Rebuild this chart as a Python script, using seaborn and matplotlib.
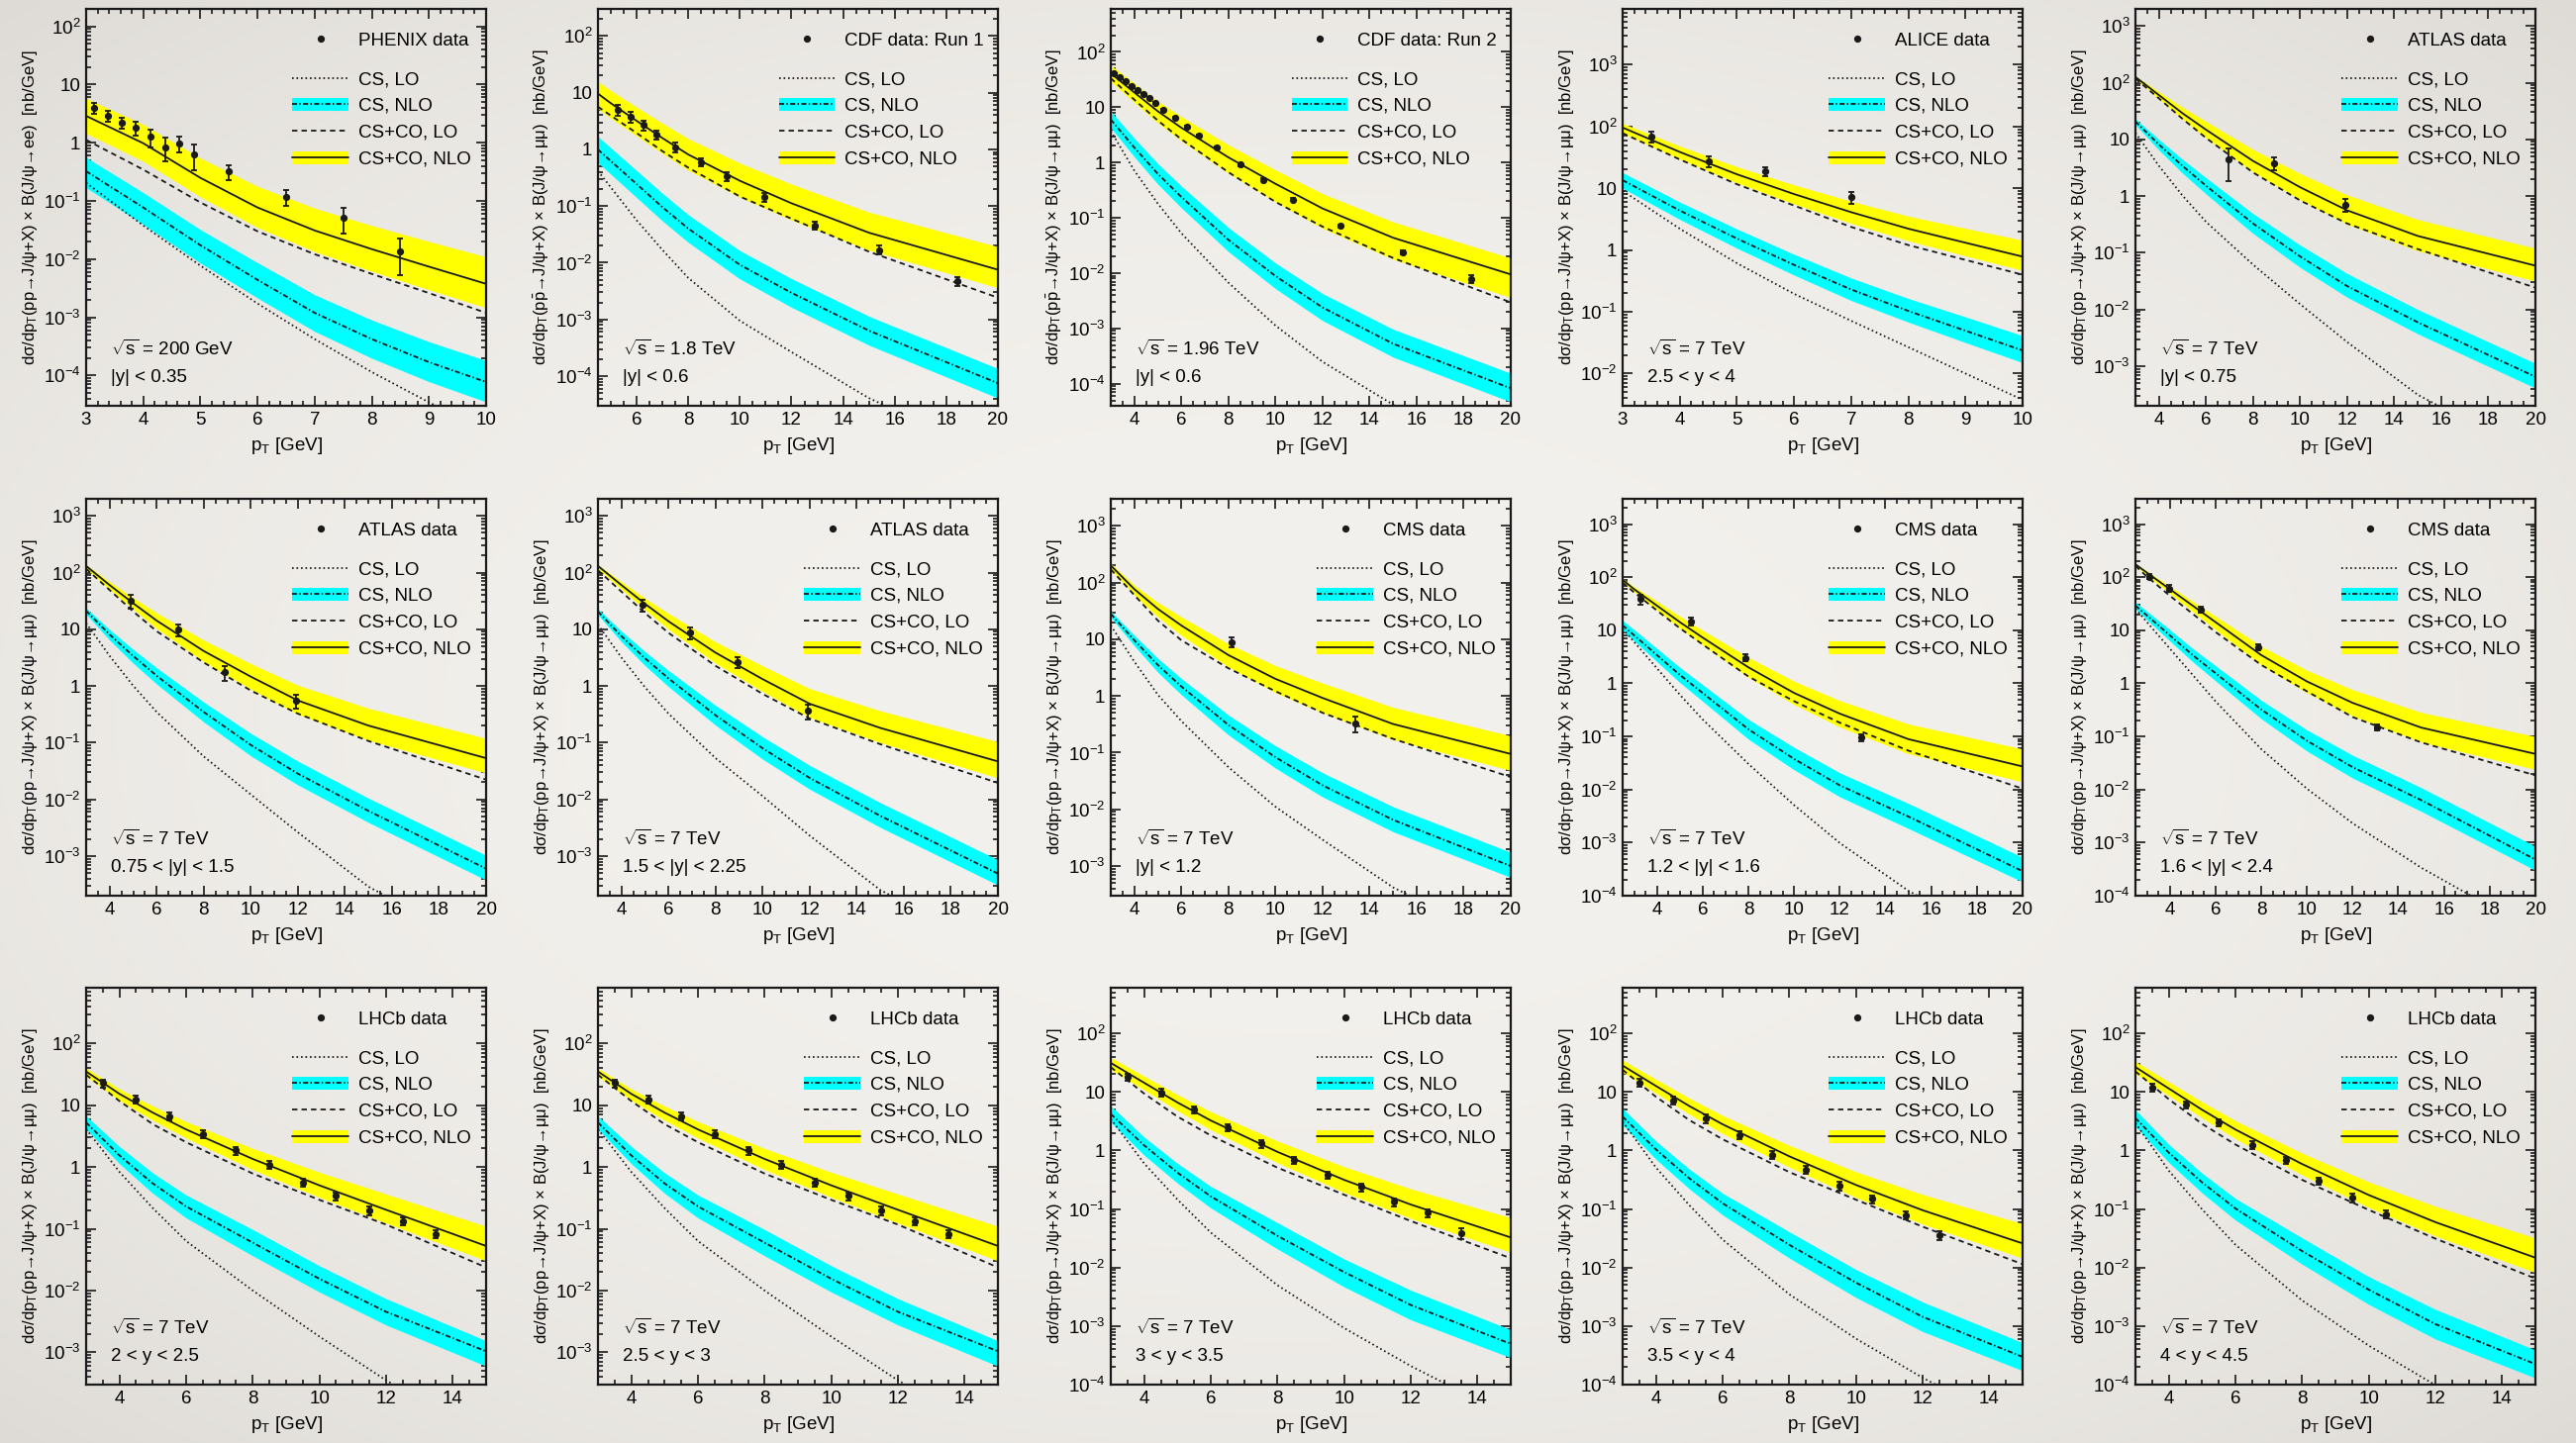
import numpy as np
import matplotlib
matplotlib.use("Agg")
import matplotlib.pyplot as plt
import seaborn as sns
from matplotlib.ticker import FixedLocator, FuncFormatter, NullFormatter
from matplotlib.lines import Line2D
from matplotlib.patches import Patch

# ---------------------------------------------------------------- data
# sampling points (pT in GeV) for the theory curves of each panel
CURVE_PT = [
    [3, 4, 5, 6, 7, 8, 9, 10],                      # PHENIX
    [4.5, 5, 6, 7, 8, 10, 12, 15, 20],              # CDF run 1
    [3, 4, 5, 6, 8, 10, 12, 15, 20],                # CDF run 2
    [3, 4, 5, 6, 7, 8, 9, 10],                      # ALICE
    [3, 4, 5, 6, 8, 10, 12, 15, 20],                # ATLAS |y|<0.75
    [3, 4, 5, 6, 8, 10, 12, 15, 20],                # ATLAS 0.75-1.5
    [3, 4, 5, 6, 8, 10, 12, 15, 20],                # ATLAS 1.5-2.25
    [3, 4, 5, 6, 8, 10, 12, 15, 20],                # CMS |y|<1.2
    [2.5, 3, 4, 5, 6, 8, 10, 12, 15, 20],           # CMS 1.2-1.6
    [2.5, 3, 4, 5, 6, 8, 10, 12, 15, 20],           # CMS 1.6-2.4
    [3, 4, 5, 6, 8, 10, 12, 15],                    # LHCb 2-2.5
    [3, 4, 5, 6, 8, 10, 12, 15],                    # LHCb 2.5-3
    [3, 4, 5, 6, 8, 10, 12, 15],                    # LHCb 3-3.5
    [3, 4, 5, 6, 8, 10, 12, 15],                    # LHCb 3.5-4
    [3, 4, 5, 6, 8, 10, 12, 15],                    # LHCb 4-4.5
]

# CS, LO  (nb/GeV)
CS_LO = [
    [0.205, 0.0377, 0.00769, 0.00172, 4.2e-4, 1.14e-4, 3.44e-5, 1.15e-5],
    [0.416, 0.213, 0.056, 0.0168, 0.0054, 9.5e-4, 2.66e-4, 4.1e-5, 3.7e-6],
    [3.72, 0.716, 0.181, 0.0527, 0.00673, 0.00113, 2.5e-4, 4.2e-5, 3.1e-6],
    [9.08, 2.21, 0.611, 0.195, 0.0713, 0.0267, 0.01, 0.00375],
    [13, 3.4, 1.02, 0.351, 0.0617, 0.0124, 0.00266, 3.13e-4, 2.47e-5],
    [12.9, 3.38, 1.01, 0.347, 0.057, 0.0122, 0.00262, 2.88e-4, 2.26e-5],
    [12.1, 3.16, 0.948, 0.325, 0.0533, 0.0114, 0.00229, 2.52e-4, 2.12e-5],
    [17.5, 4.03, 1.05, 0.361, 0.0555, 0.0111, 0.00292, 4.2e-4, 4.0e-5],
    [10.7, 6.06, 1.93, 0.615, 0.21, 0.0305, 0.0051, 9.86e-4, 1.24e-4, 8.8e-6],
    [25.4, 14.3, 4.55, 1.45, 0.462, 0.0581, 0.0104, 0.00232, 3.37e-4, 2.07e-5],
    [4.11, 0.834, 0.216, 0.0634, 0.01, 0.0018, 3.52e-4, 4.27e-5],
    [4.11, 0.834, 0.216, 0.0634, 0.01, 0.0018, 3.52e-4, 4.27e-5],
    [3.45, 0.6, 0.145, 0.0395, 0.00498, 9.25e-4, 2.08e-4, 2.8e-5],
    [3.1, 0.51, 0.116, 0.03, 0.00349, 6.1e-4, 1.31e-4, 1.68e-5],
    [2.93, 0.45, 0.0986, 0.0245, 0.00274, 4.63e-4, 9.8e-5, 1.26e-5],
]

# CS, NLO central value
CS_NLO = [
    [0.324, 0.077, 0.0173, 0.00439, 0.00119, 4.2e-4, 1.69e-4, 7.7e-5],
    [0.993, 0.621, 0.244, 0.0955, 0.0401, 0.0092, 0.00295, 6.35e-4, 7.5e-5],
    [6.0, 1.87, 0.624, 0.239, 0.0401, 0.00887, 0.0024, 5.3e-4, 8.3e-5],
    [13.5, 4.35, 1.53, 0.574, 0.229, 0.103, 0.0493, 0.0236],
    [20.7, 8.11, 3.4, 1.52, 0.328, 0.0861, 0.0258, 0.00594, 6.5e-4],
    [21.2, 8.07, 3.38, 1.51, 0.347, 0.091, 0.0284, 0.00626, 6.0e-4],
    [20.6, 7.55, 3.08, 1.36, 0.304, 0.0796, 0.0239, 0.00512, 4.9e-4],
    [28.1, 9.6, 3.52, 1.47, 0.308, 0.083, 0.0266, 0.00652, 0.001],
    [12.4, 8.07, 3.42, 1.45, 0.661, 0.137, 0.0378, 0.012, 0.0031, 2.9e-4],
    [29.2, 19.1, 8.07, 3.42, 1.56, 0.323, 0.083, 0.0264, 0.00633, 4.8e-4],
    [5.26, 1.54, 0.543, 0.23, 0.0596, 0.0155, 0.00453, 0.00104],
    [5.26, 1.54, 0.543, 0.23, 0.0596, 0.0155, 0.00453, 0.00104],
    [4.19, 1.22, 0.418, 0.164, 0.0348, 0.00836, 0.00229, 4.97e-4],
    [3.77, 1.04, 0.334, 0.125, 0.0244, 0.00552, 0.00144, 2.98e-4],
    [3.56, 0.915, 0.284, 0.102, 0.0191, 0.00418, 0.00108, 2.24e-4],
]
# CS, NLO uncertainty band (lower / upper edge)
CS_NLO_LO = [
    [0.169, 0.0392, 0.00853, 0.00214, 5.7e-4, 1.97e-4, 7.8e-5, 3.5e-5],
    [0.581, 0.364, 0.141, 0.0545, 0.0229, 0.00518, 0.00164, 3.52e-4, 4.1e-5],
    [4.26, 1.27, 0.407, 0.152, 0.0245, 0.00526, 0.00139, 3.03e-4, 4.7e-5],
    [10.0, 3.13, 1.07, 0.393, 0.152, 0.0679, 0.0317, 0.015],
    [18.1, 6.47, 2.54, 1.09, 0.219, 0.0553, 0.0164, 0.00372, 4.1e-4],
    [18.5, 6.43, 2.52, 1.08, 0.232, 0.0585, 0.018, 0.00392, 3.77e-4],
    [18, 6.01, 2.29, 0.973, 0.203, 0.0512, 0.0151, 0.00321, 3.08e-4],
    [24.5, 7.66, 2.62, 1.05, 0.206, 0.0533, 0.0166, 0.00403, 6.3e-4],
    [10, 6.32, 2.57, 1.04, 0.462, 0.0891, 0.0236, 0.0073, 0.00185, 1.82e-4],
    [25.4, 15.8, 6.32, 2.57, 1.12, 0.216, 0.0533, 0.0165, 0.00389, 3.0e-4],
    [4.11, 1.13, 0.376, 0.15, 0.0365, 0.00946, 0.00277, 5.97e-4],
    [4.11, 1.13, 0.376, 0.15, 0.0365, 0.00946, 0.00277, 5.97e-4],
    [3.03, 0.83, 0.276, 0.104, 0.0207, 0.00467, 0.00128, 2.88e-4],
    [2.73, 0.706, 0.221, 0.079, 0.0145, 0.00308, 8.06e-4, 1.73e-4],
    [2.58, 0.623, 0.188, 0.0645, 0.0114, 0.00234, 6.0e-4, 1.3e-4],
]
CS_NLO_HI = [
    [0.56, 0.139, 0.0322, 0.00865, 0.00244, 8.95e-4, 3.79e-4, 1.8e-4],
    [1.69, 1.06, 0.422, 0.168, 0.0703, 0.0164, 0.00525, 0.00114, 1.36e-4],
    [8.45, 2.75, 0.955, 0.376, 0.0667, 0.0153, 0.00428, 9.7e-4, 1.55e-4],
    [17.9, 5.98, 2.19, 0.851, 0.352, 0.164, 0.0826, 0.041],
    [23, 9.93, 4.45, 2.1, 0.49, 0.137, 0.043, 0.01, 0.00112],
    [23.6, 9.86, 4.42, 2.09, 0.519, 0.146, 0.0472, 0.0105, 0.00103],
    [22.9, 9.23, 4.03, 1.87, 0.454, 0.127, 0.0397, 0.00875, 8.6e-4],
    [31.2, 11.7, 4.6, 2.03, 0.46, 0.132, 0.0442, 0.0111, 0.00175],
    [15.3, 10.3, 4.55, 2.01, 0.944, 0.21, 0.0624, 0.0207, 0.00548, 5.3e-4],
    [33.7, 22.9, 10.3, 4.55, 2.16, 0.482, 0.133, 0.0443, 0.0109, 8.5e-4],
    [6.72, 2.15, 0.804, 0.353, 0.0973, 0.0252, 0.0074, 0.00154],
    [6.72, 2.15, 0.804, 0.353, 0.0973, 0.0252, 0.0074, 0.00154],
    [5.79, 1.69, 0.6, 0.243, 0.0583, 0.014, 0.0041, 8.67e-4],
    [5.21, 1.44, 0.48, 0.185, 0.0408, 0.00924, 0.00258, 5.2e-4],
    [4.92, 1.27, 0.408, 0.151, 0.0321, 0.007, 0.00193, 3.9e-4],
]

# CS+CO, LO
CO_LO = [
    [1.12, 0.345, 0.094, 0.030, 0.0121, 0.00555, 0.0026, 0.00119],
    [5.64, 3.94, 1.94, 0.927, 0.475, 0.147, 0.0598, 0.0157, 0.00242],
    [33.4, 13.7, 5.75, 2.64, 0.668, 0.194, 0.0693, 0.0188, 0.00296],
    [77.8, 29.2, 11.6, 5.24, 2.36, 1.2, 0.69, 0.397],
    [118, 52.7, 23, 10.6, 2.6, 0.836, 0.328, 0.116, 0.0242],
    [117, 49.2, 20.6, 9.23, 2.59, 0.83, 0.325, 0.107, 0.0223],
    [110, 46, 19.3, 8.63, 2.26, 0.724, 0.266, 0.094, 0.0195],
    [171, 60.1, 21.4, 9.6, 3.08, 1.21, 0.505, 0.175, 0.0371],
    [79.6, 51.8, 23.6, 11, 5.41, 1.35, 0.462, 0.182, 0.0541, 0.0104],
    [163, 103, 44.9, 20.5, 9.31, 2.23, 0.71, 0.232, 0.0773, 0.0185],
    [31.2, 11.7, 4.94, 2.52, 0.784, 0.294, 0.117, 0.0237],
    [31.2, 11.7, 4.94, 2.52, 0.784, 0.294, 0.117, 0.0237],
    [26.4, 9.35, 3.78, 1.8, 0.507, 0.175, 0.0622, 0.0144],
    [23.8, 8.23, 3.29, 1.55, 0.426, 0.144, 0.0498, 0.0114],
    [22.4, 7.48, 2.84, 1.26, 0.314, 0.0963, 0.0311, 0.00648],
]

# CS+CO, NLO central value and band
CO_NLO = [
    [2.89, 0.98, 0.249, 0.077, 0.031, 0.0148, 0.0074, 0.00375],
    [9.6, 6.5, 3.18, 1.58, 0.81, 0.279, 0.112, 0.0339, 0.00753],
    [41, 18.5, 8.45, 4.26, 1.24, 0.413, 0.148, 0.0437, 0.0095],
    [95.9, 38.6, 16.8, 8.04, 4.09, 2.21, 1.31, 0.78],
    [126, 60.3, 28.9, 14.8, 4.16, 1.43, 0.56, 0.198, 0.0592],
    [131, 60.1, 28.8, 14.2, 4.13, 1.46, 0.555, 0.2, 0.0533],
    [131, 60.1, 28.1, 13.8, 3.86, 1.32, 0.485, 0.182, 0.0467],
    [200, 76.6, 34.3, 17.5, 5.26, 2.0, 0.923, 0.32, 0.0948],
    [89.1, 59.7, 29.2, 14.3, 7.3, 2.01, 0.661, 0.269, 0.0891, 0.0272],
    [175, 122, 59.7, 29.2, 14.3, 3.42, 1.09, 0.43, 0.147, 0.0469],
    [35.2, 15.3, 7.6, 4.06, 1.35, 0.505, 0.203, 0.0527],
    [35.2, 15.3, 7.6, 4.06, 1.35, 0.505, 0.203, 0.0527],
    [31.2, 14.3, 6.59, 3.24, 0.944, 0.314, 0.119, 0.0326],
    [28.1, 12.6, 5.73, 2.79, 0.793, 0.257, 0.0952, 0.0258],
    [26.5, 11.4, 4.94, 2.27, 0.585, 0.173, 0.0595, 0.0147],
]
CO_NLO_LO = [
    [1.45, 0.479, 0.117, 0.0348, 0.01346, 0.00615, 0.00297, 0.00145],
    [5.27, 3.53, 1.72, 0.845, 0.428, 0.143, 0.0567, 0.0167, 0.0036],
    [29.1, 12.2, 5.23, 2.46, 0.641, 0.194, 0.0648, 0.0178, 0.00363],
    [77.8, 29.5, 12.2, 5.56, 2.7, 1.41, 0.8, 0.466],
    [118, 51.4, 22.7, 10.6, 2.67, 0.859, 0.319, 0.108, 0.0316],
    [117, 50.5, 22.6, 10.3, 2.69, 0.875, 0.316, 0.11, 0.0292],
    [117, 50.5, 22, 10, 2.52, 0.796, 0.277, 0.1, 0.0239],
    [171, 60.1, 24.8, 11.7, 3.25, 1.14, 0.505, 0.17, 0.0485],
    [81.8, 52.5, 23.9, 11, 5.25, 1.31, 0.4, 0.151, 0.0475, 0.0139],
    [163, 109, 49.6, 22.6, 10.3, 2.23, 0.661, 0.243, 0.0783, 0.0239],
    [29.3, 12, 5.73, 2.95, 0.908, 0.324, 0.124, 0.0303],
    [29.3, 12, 5.73, 2.95, 0.908, 0.324, 0.124, 0.0303],
    [24, 10.8, 4.77, 2.25, 0.616, 0.192, 0.069, 0.0182],
    [21.6, 9.5, 4.15, 1.94, 0.517, 0.157, 0.0552, 0.0144],
    [20.4, 8.64, 3.58, 1.58, 0.382, 0.106, 0.0345, 0.0082],
]
CO_NLO_HI = [
    [5.8, 2.06, 0.545, 0.178, 0.075, 0.0377, 0.0201, 0.0109],
    [15.8, 10.9, 5.57, 2.89, 1.54, 0.573, 0.244, 0.0785, 0.0192],
    [57.8, 27.2, 12.9, 6.79, 2.09, 0.736, 0.274, 0.0845, 0.0188],
    [112, 48.2, 22.3, 11.3, 6.14, 3.53, 2.24, 1.44],
    [131, 69, 36.8, 20.7, 6.64, 2.5, 1.05, 0.386, 0.12],
    [138, 68.7, 36.1, 19.5, 6.43, 2.48, 1.03, 0.405, 0.119],
    [138, 68.7, 35.2, 19, 6.01, 2.26, 0.898, 0.365, 0.104],
    [217, 89.8, 44.8, 24.8, 8.3, 3.43, 1.69, 0.63, 0.198],
    [94.4, 66.1, 35.2, 18.5, 10, 3.1, 1.1, 0.475, 0.172, 0.0581],
    [182, 131, 67.9, 35.2, 18.5, 5.04, 1.77, 0.762, 0.284, 0.1],
    [39.8, 18.4, 9.7, 5.46, 2.0, 0.824, 0.366, 0.11],
    [39.8, 18.4, 9.7, 5.46, 2.0, 0.824, 0.366, 0.11],
    [38.8, 18.6, 9.0, 4.58, 1.45, 0.527, 0.221, 0.0708],
    [34.9, 16.4, 7.83, 3.94, 1.22, 0.432, 0.177, 0.0559],
    [33, 14.9, 6.75, 3.21, 0.899, 0.29, 0.111, 0.0319],
]

# measured points: pT, dsigma/dpT and error
PT_DATA = [
    [3.13, 3.38, 3.62, 3.87, 4.13, 4.38, 4.63, 4.88, 5.5, 6.5, 7.5, 8.5],
    [5.25, 5.75, 6.25, 6.75, 7.5, 8.5, 9.5, 10.93, 12.92, 15.38, 18.42],
    [3.13, 3.38, 3.63, 3.88, 4.13, 4.38, 4.63, 4.88, 5.25, 5.75, 6.25, 6.75,
     7.5, 8.5, 9.5, 10.75, 12.75, 15.4, 18.3],
    [3.5, 4.5, 5.5, 7.0],
    [6.95, 8.91, 11.93],
    [4.9, 6.91, 8.91, 11.94],
    [4.91, 6.9, 8.92, 11.92],
    [8.15, 13.41],
    [3.27, 5.48, 7.89, 12.95],
    [3.12, 3.99, 5.36, 7.86, 13.09],
    [3.5, 4.5, 5.5, 6.5, 7.5, 8.5, 9.5, 10.5, 11.5, 12.5, 13.5],
    [3.5, 4.5, 5.5, 6.5, 7.5, 8.5, 9.5, 10.5, 11.5, 12.5, 13.5],
    [3.5, 4.5, 5.5, 6.5, 7.5, 8.5, 9.5, 10.5, 11.5, 12.5, 13.5],
    [3.5, 4.5, 5.5, 6.5, 7.5, 8.5, 9.5, 10.5, 11.5, 12.5],
    [3.5, 4.5, 5.5, 6.5, 7.5, 8.5, 9.5, 10.5],
]
SIG_DATA = [
    [3.95, 2.96, 2.2, 1.81, 1.27, 0.84, 0.98, 0.64, 0.32, 0.119, 0.052, 0.0138],
    [4.93, 3.78, 2.7, 1.81, 1.1, 0.597, 0.331, 0.143, 0.0458, 0.0168, 0.00472],
    [41.0, 35.2, 29.9, 23.7, 20.6, 17.3, 14.6, 11.9, 9.06, 6.43, 4.44, 3.02,
     1.87, 0.916, 0.488, 0.214, 0.0713, 0.0238, 0.00794],
    [68.9, 27.4, 18.5, 7.11],
    [4.45, 3.79, 0.711],
    [32.1, 9.86, 1.73, 0.555],
    [26.9, 8.63, 2.66, 0.361],
    [8.98, 0.329],
    [38.9, 14.7, 3.05, 0.0958],
    [103, 61.5, 24.6, 4.89, 0.151],
    [22.9, 12.4, 6.72, 3.42, 1.85, 1.09, 0.563, 0.34, 0.198, 0.132, 0.083],
    [22.9, 12.4, 6.72, 3.42, 1.85, 1.09, 0.563, 0.34, 0.198, 0.132, 0.083],
    [17.9, 9.72, 4.96, 2.46, 1.31, 0.684, 0.382, 0.236, 0.132, 0.0861, 0.0385],
    [14.4, 7.1, 3.5, 1.83, 0.845, 0.473, 0.248, 0.148, 0.078, 0.0359],
    [12.0, 6.0, 3.0, 1.25, 0.68, 0.3, 0.155, 0.082],
]
ERR_DATA = [
    [0.85, 0.63, 0.48, 0.47, 0.44, 0.37, 0.29, 0.3, 0.095, 0.037, 0.025, 0.0085],
    [1.1, 0.8, 0.55, 0.35, 0.2, 0.1, 0.06, 0.025, 0.008, 0.003, 0.0009],
    [2, 1.8, 1.5, 1.2, 1.0, 0.9, 0.7, 0.6, 0.45, 0.32, 0.22, 0.15,
     0.09, 0.045, 0.025, 0.011, 0.004, 0.0015, 0.0012],
    [13, 5.5, 3, 1.5],
    [2.6, 0.95, 0.18],
    [9, 2.3, 0.5, 0.15],
    [6.5, 2, 0.6, 0.11],
    [1.9, 0.1],
    [8, 2.5, 0.45, 0.016],
    [12, 9, 3, 0.6, 0.02],
    [3.3, 1.8, 1.0, 0.5, 0.27, 0.16, 0.08, 0.05, 0.03, 0.02, 0.013],
    [3.3, 1.8, 1.0, 0.5, 0.27, 0.16, 0.08, 0.05, 0.03, 0.02, 0.013],
    [2.7, 1.5, 0.75, 0.37, 0.2, 0.1, 0.057, 0.035, 0.02, 0.013, 0.008],
    [2.2, 1.1, 0.55, 0.28, 0.13, 0.07, 0.04, 0.022, 0.012, 0.006],
    [1.8, 0.9, 0.45, 0.2, 0.1, 0.045, 0.025, 0.014],
]

DATA_LABEL = ["PHENIX data", "CDF data: Run 1", "CDF data: Run 2", "ALICE data",
              "ATLAS data", "ATLAS data", "ATLAS data", "CMS data", "CMS data",
              "CMS data", "LHCb data", "LHCb data", "LHCb data", "LHCb data",
              "LHCb data"]
ENERGY = ["200 GeV", "1.8 TeV", "1.96 TeV"] + ["7 TeV"] * 12
RAPIDITY = ["|y| < 0.35", "|y| < 0.6", "|y| < 0.6", "2.5 < y < 4", "|y| < 0.75",
            "0.75 < |y| < 1.5", "1.5 < |y| < 2.25", "|y| < 1.2", "1.2 < |y| < 1.6",
            "1.6 < |y| < 2.4", "2 < y < 2.5", "2.5 < y < 3", "3 < y < 3.5",
            "3.5 < y < 4", "4 < y < 4.5"]
PROCESS = ["pp_ee", "ppbar", "ppbar"] + ["pp_mumu"] * 12
X_RANGE = [(3, 10), (4.5, 20), (3, 20), (3, 10), (3, 20), (3, 20), (3, 20), (3, 20),
           (2.5, 20), (2.5, 20), (3, 15), (3, 15), (3, 15), (3, 15), (3, 15)]
Y_RANGE = [(3e-5, 200), (3e-5, 300), (4e-5, 600), (3e-3, 8000), (2e-4, 2000),
           (2e-4, 2000), (2e-4, 2000), (3e-4, 3000), (1e-4, 3000), (1e-4, 3000),
           (3e-4, 800), (3e-4, 800), (1e-4, 600), (1e-4, 600), (1e-4, 600)]
X_STEP = [1, 2, 2, 1, 2, 2, 2, 2, 2, 2, 2, 2, 2, 2, 2]

# ---------------------------------------------------------------- layout / style
W, H = 2602, 1458
COL_LEFT = [87, 604, 1122, 1639, 2157]
ROW_TOP = [9, 504, 998]
AX_W, AX_H = 404, 401
LEG_X = [0.516, 0.452, 0.452] + [0.516] * 12

CYAN = "#00ffff"
YELLOW = "#ffff00"
LW = 1.3
LS_DOT = (0, (0.9, 1.6))
LS_DASH = (0, (3.0, 2.3))
LS_DASHDOT = (0, (2.8, 1.3, 0.8, 1.3))
FS = 13.5

sns.set_theme(style="ticks")
plt.rcParams["font.family"] = ["Liberation Sans", "DejaVu Sans"]
plt.rcParams["mathtext.fontset"] = "custom"
plt.rcParams["mathtext.rm"] = "Liberation Sans"
plt.rcParams["mathtext.it"] = "Liberation Sans:italic"
plt.rcParams["mathtext.bf"] = "Liberation Sans:bold"
for k in ["text.color", "axes.labelcolor", "xtick.color", "ytick.color", "axes.edgecolor"]:
    plt.rcParams[k] = "black"


def ylabel_text(kind):
    head = "dσ/dp$_{\\mathregular{T}}$"
    if kind == "ppbar":
        return head + "(p$\\bar{\\mathregular{p}}$→J/ψ+X) × B(J/ψ→μμ)  [nb/GeV]"
    if kind == "pp_ee":
        return head + "(pp→J/ψ+X) × B(J/ψ→ee)  [nb/GeV]"
    return head + "(pp→J/ψ+X) × B(J/ψ→μμ)  [nb/GeV]"


def log_fmt(v, pos):
    e = int(round(np.log10(v)))
    if e == 0:
        return "1"
    if e == 1:
        return "10"
    return "$\\mathregular{10^{%d}}$" % e


def inside(vals, lo, hi):
    return [v for v in vals if lo - 1e-9 <= v <= hi + 1e-9]


fig = plt.figure(figsize=(W / 100, H / 100), dpi=100, facecolor="#efede9")

# soft paper-like vignette behind everything
yy, xx = np.mgrid[0:H, 0:W]
rr = ((xx - W / 2) / (W / 2)) ** 2 + ((yy - H / 2) / (H / 2)) ** 2
shade = np.clip(rr / 2.0, 0, 1) ** 1.3
base = np.array([243, 241, 237], dtype=float)
edge = np.array([222, 219, 214], dtype=float)
vign = (base[None, None, :] * (1 - shade[..., None]) + edge[None, None, :] * shade[..., None]) / 255.0
fig.figimage(vign, xo=0, yo=0, zorder=-10)

h_data = Line2D([], [], marker="o", ms=4.2, color="k", ls="none")
h_cslo = Line2D([], [], color="k", lw=LW, ls=LS_DOT)
h_csnlo = (Patch(facecolor=CYAN, edgecolor="none"),
           Line2D([], [], color="k", lw=LW, ls=LS_DASHDOT))
h_colo = Line2D([], [], color="k", lw=LW, ls=LS_DASH)
h_conlo = (Patch(facecolor=YELLOW, edgecolor="none"),
           Line2D([], [], color="k", lw=LW, ls="-"))

for i in range(15):
    r, c = divmod(i, 5)
    rect = [COL_LEFT[c] / W, 1 - (ROW_TOP[r] + AX_H) / H, AX_W / W, AX_H / H]
    ax = fig.add_axes(rect)
    ax.set_facecolor("none")
    ax.set_yscale("log")
    x0, x1 = X_RANGE[i]
    y0, y1 = Y_RANGE[i]
    ax.set_xlim(x0, x1)
    ax.set_ylim(y0, y1)

    x = np.array(CURVE_PT[i], dtype=float)
    ax.fill_between(x, CO_NLO_LO[i], CO_NLO_HI[i], color=YELLOW, lw=0, zorder=1)
    ax.fill_between(x, CS_NLO_LO[i], CS_NLO_HI[i], color=CYAN, lw=0, zorder=1)

    for series, ls in [(CS_LO[i], LS_DOT), (CS_NLO[i], LS_DASHDOT),
                       (CO_LO[i], LS_DASH), (CO_NLO[i], "-")]:
        sns.lineplot(x=x, y=np.array(series, dtype=float), ax=ax, color="k",
                     linewidth=LW, linestyle=ls, estimator=None, errorbar=None,
                     legend=False, zorder=3)

    ax.errorbar(PT_DATA[i], SIG_DATA[i], yerr=ERR_DATA[i], fmt="o", ms=4.2,
                color="k", ecolor="k", elinewidth=1.3, capsize=2.3, capthick=1.3,
                zorder=4)

    # axes cosmetics (ROOT-like), ticks only inside the visible range
    for s in ax.spines.values():
        s.set_linewidth(1.6)
        s.set_color("k")
    step = X_STEP[i]
    minor_step = 0.2 if step == 1 else 0.5
    ax.xaxis.set_major_locator(FixedLocator(inside(np.arange(0, 21, step), x0, x1)))
    ax.xaxis.set_minor_locator(FixedLocator(inside(np.arange(0, 21, minor_step), x0, x1)))
    decades = np.arange(-6, 5)
    ax.yaxis.set_major_locator(FixedLocator(inside([10.0 ** d for d in decades], y0, y1)))
    ax.yaxis.set_minor_locator(FixedLocator(
        inside([m * 10.0 ** d for d in decades for m in range(2, 10)], y0, y1)))
    ax.yaxis.set_major_formatter(FuncFormatter(log_fmt))
    ax.yaxis.set_minor_formatter(NullFormatter())
    ax.tick_params(which="both", direction="in", top=True, right=True,
                   color="k", labelsize=13.5, width=1.2)
    ax.tick_params(which="major", length=7, pad=4)
    ax.tick_params(which="minor", length=3.8)
    ax.set_xlabel("p$_{\\mathregular{T}}$ [GeV]", fontsize=FS, labelpad=5)
    ax.set_ylabel(ylabel_text(PROCESS[i]), fontsize=12, labelpad=3)
    ax.grid(False)

    ax.text(0.062, 0.142, "$\\sqrt{\\mathregular{s}}$ = " + ENERGY[i],
            transform=ax.transAxes, fontsize=FS, ha="left", va="center")
    ax.text(0.062, 0.072, RAPIDITY[i], transform=ax.transAxes, fontsize=FS,
            ha="left", va="center")

    leg1 = ax.legend([h_data], [DATA_LABEL[i]], loc="upper left",
                     bbox_to_anchor=(LEG_X[i], 0.941), frameon=False, fontsize=FS,
                     handlelength=3.0, handletextpad=0.55, borderpad=0,
                     borderaxespad=0)
    ax.add_artist(leg1)
    ax.legend([h_cslo, h_csnlo, h_colo, h_conlo],
              ["CS, LO", "CS, NLO", "CS+CO, LO", "CS+CO, NLO"],
              loc="upper left", bbox_to_anchor=(LEG_X[i], 0.843), frameon=False,
              fontsize=FS, handlelength=3.0, handletextpad=0.55, borderpad=0,
              borderaxespad=0, labelspacing=0.52)

fig.savefig("out.png", dpi=100)
